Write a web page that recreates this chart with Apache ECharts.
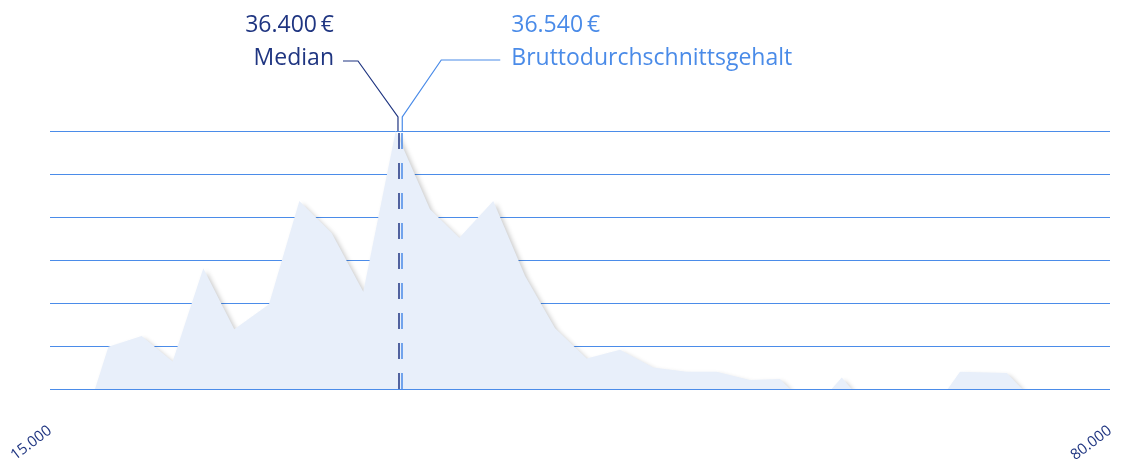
<!DOCTYPE html>
<html>
<head>
<meta charset="utf-8">
<script src="https://cdn.jsdelivr.net/npm/echarts@6/dist/echarts.min.js"></script>
<style>
html,body{margin:0;padding:0;background:#fff;}
#chart{width:1123px;height:461px;}
</style>
</head>
<body>
<div id="chart"></div>
<script>
// Salary distribution (x: gross salary in €, y: relative frequency units)
const salaryX = [17760, 18580, 20620, 22520, 24400, 26300, 28430, 30290, 32270, 34210, 36200, 38300, 40100, 42180, 44130, 45970, 47910, 49950, 51990, 54040, 55880, 57920, 59760, 60380, 62930, 63550, 64160, 70050, 70800, 73670, 74620];
const frequency = [0, 0.98, 1.23, 0.64, 2.81, 1.39, 1.97, 4.37, 3.63, 2.26, 6.0, 4.18, 3.52, 4.37, 2.63, 1.41, 0.71, 0.91, 0.50, 0.40, 0.40, 0.21, 0.23, 0, 0, 0.27, 0, 0, 0.40, 0.37, 0];
const xTickLabels = [15000, 80000];
const xRange = [15000, 80000];
const medianValue = 36400;
const averageValue = 36540;
const medianLabel = 'Median';
const averageLabel = 'Bruttodurchschnittsgehalt';

const NAVY = '#1f3581';
const BLUE = '#4a8be8';
const FONT = '"Open Sans", "Noto Sans", sans-serif';

function fmt(v) {
  return String(v).replace(/\B(?=(\d{3})+(?!\d))/g, '.');
}

const chart = echarts.init(document.getElementById('chart'), null, {renderer: 'canvas'});

const option = {
  animation: false,
  grid: {left: 50, right: 13, top: 131, bottom: 72, containLabel: false, outerBoundsMode: 'none'},
  xAxis: {
    type: 'value',
    min: xRange[0],
    max: xRange[1],
    axisLine: {show: false},
    axisTick: {show: false},
    splitLine: {show: false},
    axisLabel: {
      customValues: xTickLabels,
      rotate: 37,
      margin: 40,
      color: NAVY,
      fontSize: 15,
      fontFamily: FONT,
      formatter: v => fmt(v)
    }
  },
  yAxis: {
    type: 'value',
    min: 0,
    max: 6,
    interval: 1,
    axisLine: {show: false},
    axisTick: {show: false},
    axisLabel: {show: false},
    splitLine: {show: true, lineStyle: {color: '#4b8ce9', width: 1}}
  },
  series: [{
    type: 'line',
    data: salaryX.map((x, i) => [x, frequency[i]]),
    symbol: 'none',
    smooth: false,
    lineStyle: {width: 0},
    areaStyle: {
      color: '#e8effa',
      opacity: 1,
      shadowColor: 'rgba(0,0,0,0.22)',
      shadowBlur: 5,
      shadowOffsetX: 3,
      shadowOffsetY: 3
    },
    markLine: {
      silent: true,
      symbol: 'none',
      label: {show: false},
      data: [
        {xAxis: medianValue, lineStyle: {color: NAVY, width: 1.5, type: [16, 14]}},
        {xAxis: averageValue, lineStyle: {color: BLUE, width: 1.5, type: [16, 14]}}
      ]
    }
  }]
};
chart.setOption(option);

// Annotation connectors placed from the axis scale
const pMed = chart.convertToPixel({gridIndex: 0}, [medianValue, 6]);
const pAvg = chart.convertToPixel({gridIndex: 0}, [averageValue, 6]);
const topY = pMed[1];
const kneeY = topY - 14;
const armY = 61;

chart.setOption({
  graphic: [
    {type: 'polyline', silent: true, z: 100,
     shape: {points: [[pMed[0] - 1, topY], [pMed[0] - 1, kneeY], [pMed[0] - 41, armY], [pMed[0] - 56, armY]]},
     style: {stroke: NAVY, lineWidth: 1.2, fill: null}},
    {type: 'polyline', silent: true, z: 100,
     shape: {points: [[pAvg[0] + 1, topY], [pAvg[0] + 1, kneeY], [pAvg[0] + 40, armY - 1], [pAvg[0] + 99, armY - 1]]},
     style: {stroke: BLUE, lineWidth: 1.2, fill: null}},
    {type: 'text', silent: true, z: 100,
     style: {text: fmt(medianValue) + '\u2009€', x: pMed[0] - 65, y: 25, fill: NAVY,
             font: '23px ' + FONT, textAlign: 'right', textVerticalAlign: 'middle'}},
    {type: 'text', silent: true, z: 100,
     style: {text: medianLabel, x: pMed[0] - 65, y: 58, fill: NAVY,
             font: '23px ' + FONT, textAlign: 'right', textVerticalAlign: 'middle'}},
    {type: 'text', silent: true, z: 100,
     style: {text: fmt(averageValue) + '\u2009€', x: pAvg[0] + 110, y: 25, fill: BLUE,
             font: '23px ' + FONT, textAlign: 'left', textVerticalAlign: 'middle'}},
    {type: 'text', silent: true, z: 100,
     style: {text: averageLabel, x: pAvg[0] + 110, y: 58, fill: BLUE,
             font: '23px ' + FONT, textAlign: 'left', textVerticalAlign: 'middle'}}
  ]
});
</script>
</body>
</html>
